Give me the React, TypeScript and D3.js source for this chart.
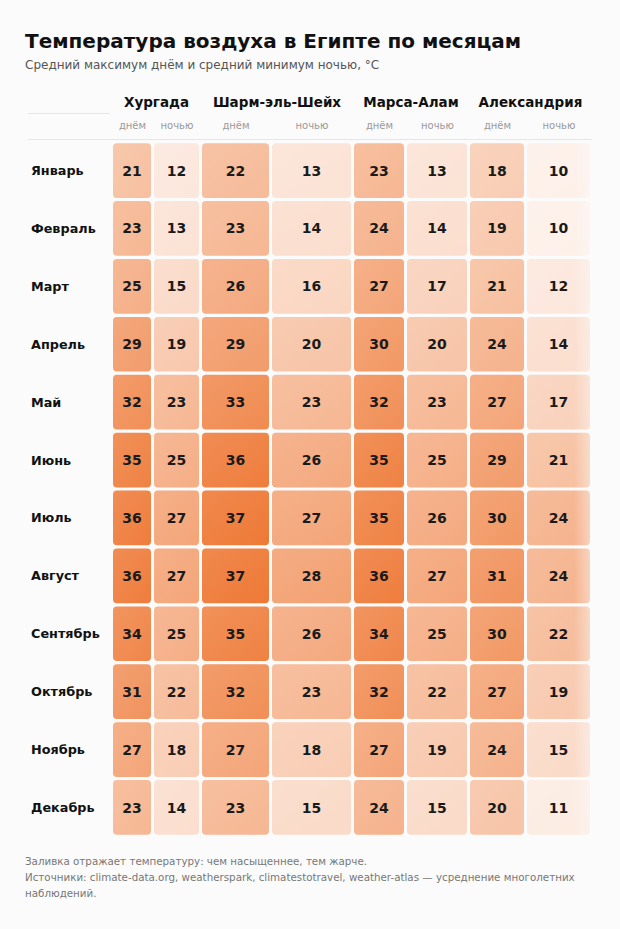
import React from "react";
import * as d3 from "d3";

const months = ["Январь","Февраль","Март","Апрель","Май","Июнь","Июль","Август","Сентябрь","Октябрь","Ноябрь","Декабрь"];
const cities = ["Хургада","Шарм-эль-Шейх","Марса-Алам","Александрия"];
const subLabels = ["днём","ночью"];

const hurghadaDay = [21,23,25,29,32,35,36,36,34,31,27,23];
const hurghadaNight = [12,13,15,19,23,25,27,27,25,22,18,14];
const sharmDay = [22,23,26,29,33,36,37,37,35,32,27,23];
const sharmNight = [13,14,16,20,23,26,27,28,26,23,18,15];
const marsaDay = [23,24,27,30,32,35,35,36,34,32,27,24];
const marsaNight = [13,14,17,20,23,25,26,27,25,22,19,15];
const alexDay = [18,19,21,24,27,29,30,31,30,27,24,20];
const alexNight = [10,10,12,14,17,21,24,24,22,19,15,11];

const series = [hurghadaDay, hurghadaNight, sharmDay, sharmNight, marsaDay, marsaNight, alexDay, alexNight];

// layout (table-like column widths)
const colWidths = [41, 48, 70, 82, 53, 63, 57, 66];
const tableLeft = 112;

export default function App() {
  const W = 620, H = 929;
  const font = "'DejaVu Sans', sans-serif";
  const colStarts: number[] = [];
  let acc = tableLeft;
  colWidths.forEach((w) => { colStarts.push(acc); acc += w; });
  const tableRight = acc;

  const y = d3.scaleBand<string>().domain(months).range([142, 836]).paddingInner(0.055).paddingOuter(0.02);
  const color = d3.scaleLinear<string>().domain([10, 37]).range(["#fdf0e9", "#ee7936"]).interpolate(d3.interpolateRgb);

  return (
    <svg width={W} height={H} style={{ position: "absolute", left: 0, top: 0 }} fontFamily={font}>
      <defs>
        <linearGradient id="sheen" x1="0" y1="0" x2="1" y2="1">
          <stop offset="0" stopColor="#fff" stopOpacity={0.12} />
          <stop offset="1" stopColor="#fff" stopOpacity={0} />
        </linearGradient>
        <linearGradient id="fade" x1="0" y1="0" x2="1" y2="0">
          <stop offset="0" stopColor="#fbfbfb" stopOpacity={0} />
          <stop offset="1" stopColor="#fbfbfb" stopOpacity={0.55} />
        </linearGradient>
      </defs>
      <rect width={W} height={H} fill="#fbfbfb" />
      <text x={25} y={48} fontSize={20} fontWeight="bold" fill="#111">Температура воздуха в Египте по месяцам</text>
      <text x={25} y={69} fontSize={12} fill="#555">Средний максимум днём и средний минимум ночью, °C</text>

      {cities.map((c, i) => {
        const x0 = colStarts[i * 2];
        const x1 = colStarts[i * 2 + 1] + colWidths[i * 2 + 1];
        return (
          <text key={c} x={(x0 + x1) / 2} y={107} fontSize={13.5} fontWeight="bold" textAnchor="middle" fill="#111">{c}</text>
        );
      })}
      {series.map((_, j) => (
        <text key={j} x={colStarts[j] + colWidths[j] / 2} y={129} fontSize={10} textAnchor="middle" fill="#999">{subLabels[j % 2]}</text>
      ))}
      <line x1={28} x2={110} y1={113.5} y2={113.5} stroke="#e6e6e6" />
      <line x1={28} x2={tableRight} y1={139.5} y2={139.5} stroke="#e6e6e6" />

      {months.map((m, i) => {
        const yy = y(m)!;
        const bh = y.bandwidth();
        return (
          <g key={m}>
            <text x={31} y={yy + bh / 2} dy="0.35em" fontSize={12.8} fontWeight="bold" fill="#111">{m}</text>
            {series.map((s, j) => {
              const x = colStarts[j] + 1;
              const w = colWidths[j] - 3;
              return (
                <g key={j}>
                  <rect x={x} y={yy} width={w} height={bh} rx={4} fill={color(s[i])} />
                  <rect x={x} y={yy} width={w} height={bh} rx={4} fill="url(#sheen)" />
                  <text x={x + w / 2} y={yy + bh / 2} dy="0.36em" fontSize={14} fontWeight="bold" textAnchor="middle" fill="#1a1a1a">{s[i]}</text>
                </g>
              );
            })}
          </g>
        );
      })}
      <rect x={tableRight - 18} y={140} width={20} height={700} fill="url(#fade)" />

      <text x={25} y={865} fontSize={10.3} fill="#777">Заливка отражает температуру: чем насыщеннее, тем жарче.</text>
      <text x={25} y={881} fontSize={10.3} fill="#777">Источники: climate-data.org, weatherspark, climatestotravel, weather-atlas — усреднение многолетних</text>
      <text x={25} y={897} fontSize={10.3} fill="#777">наблюдений.</text>
    </svg>
  );
}
